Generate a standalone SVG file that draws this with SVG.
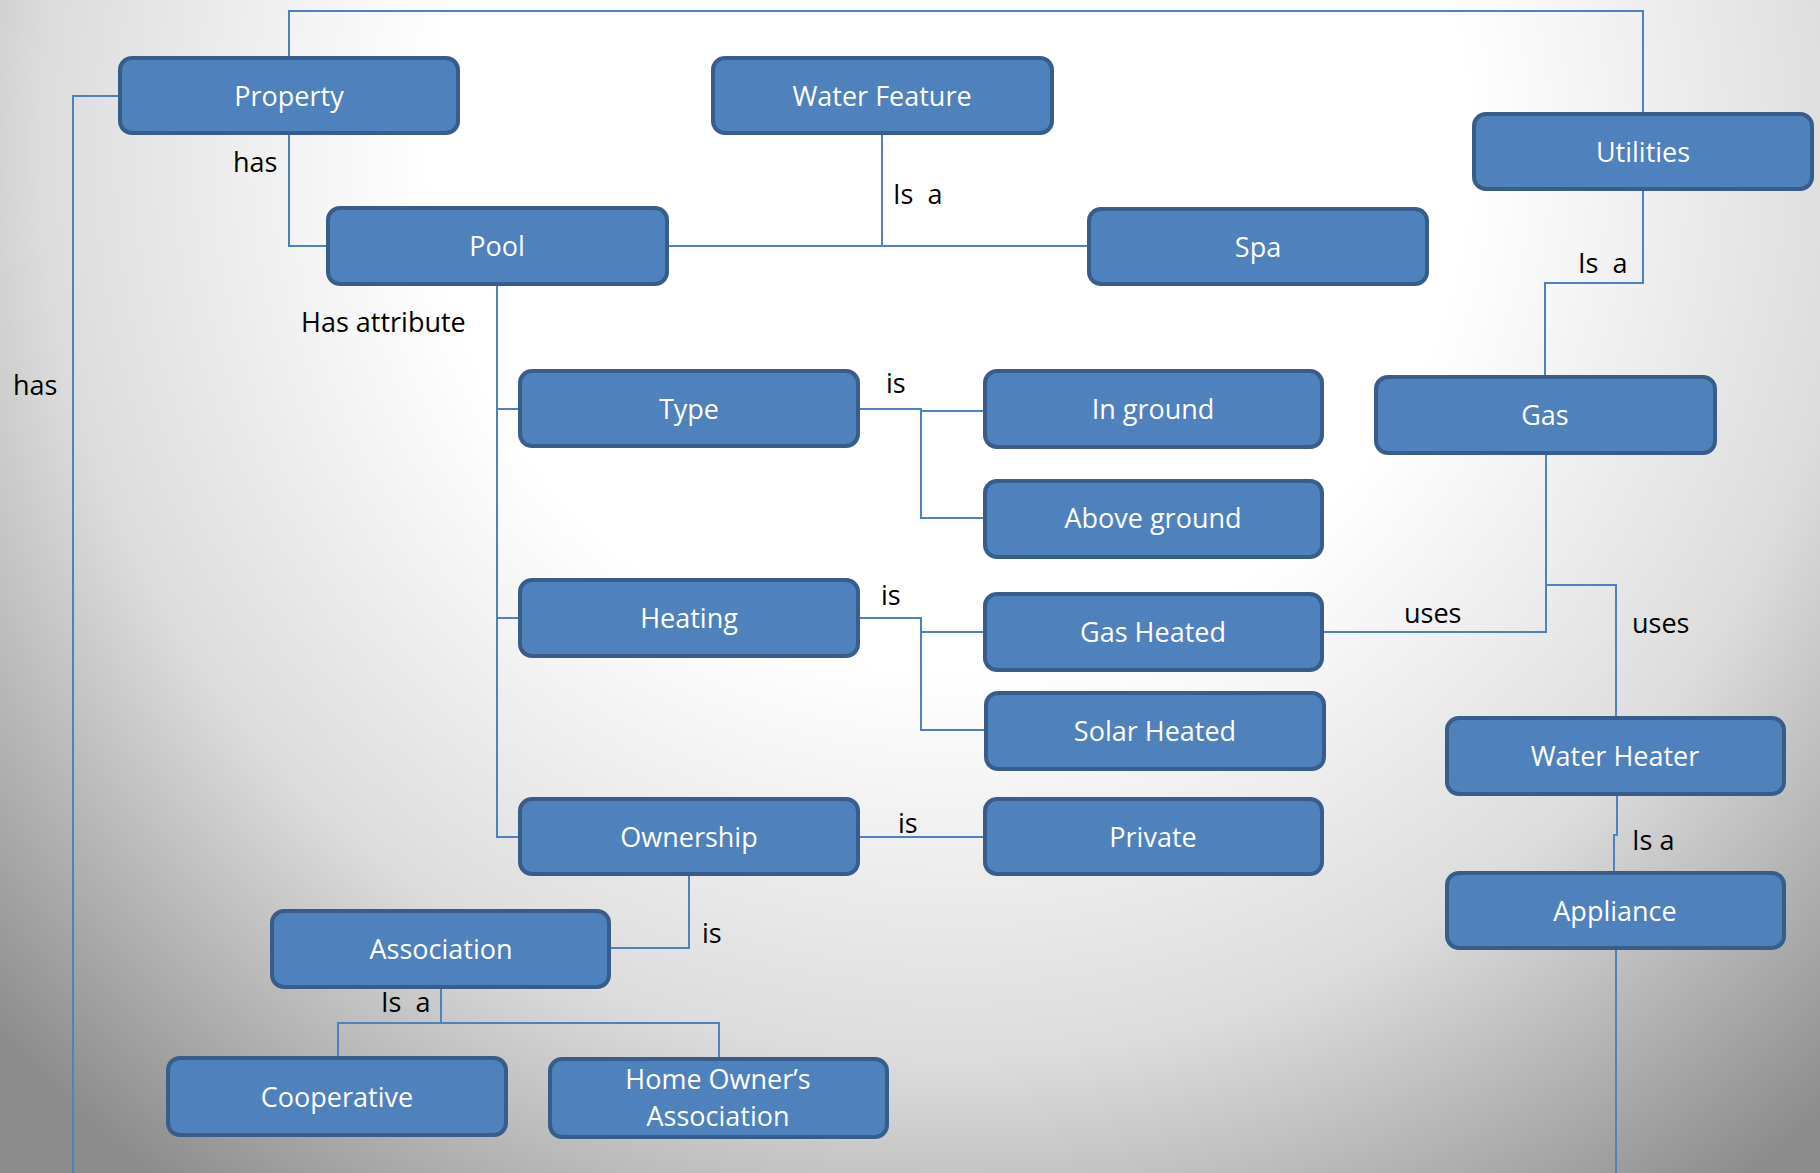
<svg xmlns="http://www.w3.org/2000/svg" width="1820" height="1173" viewBox="0 0 1820 1173">
<style>
.node rect{fill:#4F81BD;stroke:#385D8A;stroke-width:4}
.node text{fill:#fff;font-family:"Open Sans","Noto Sans",sans-serif;font-size:27px;text-anchor:middle}
.lbl{fill:#000;font-family:"Open Sans","Noto Sans",sans-serif;font-size:27px;white-space:pre}
#connectors path{fill:none;stroke:#4F81BD;stroke-width:2}
</style>
<defs>
<radialGradient id="bg" gradientUnits="userSpaceOnUse" cx="950" cy="150" r="1300">
<stop offset="0" stop-color="#ffffff"/>
<stop offset="0.4" stop-color="#ffffff"/>
<stop offset="0.7" stop-color="#dcdcdc"/>
<stop offset="1" stop-color="#8c8c8c"/>
</radialGradient>
</defs>
<rect width="1820" height="1173" fill="url(#bg)"/>
<g id="connectors">
<path d="M289,58 V11 H1643 V114"/>
<path d="M120,96 H73 V1173"/>
<path d="M289,132 V246 H328"/>
<path d="M882,132 V246 M667,246 H1089"/>
<path d="M1643,188 V283 H1545 V377"/>
<path d="M497,284 V837 H520 M497,409 H520 M497,618 H520"/>
<path d="M858,409 H921 V411 H985 M921,411 V518 H985"/>
<path d="M858,618 H921 V632 H985 M921,632 V730 H986"/>
<path d="M858,837 H985"/>
<path d="M689,874 V948 H609"/>
<path d="M441,987 V1023 M338,1058 V1023 H719 V1059"/>
<path d="M1322,632 H1546 V453 M1546,585 H1616 V718"/>
<path d="M1617,794 V835 H1614 V874"/>
<path d="M1616,948 V1173"/>
</g>
<g id="labels">
<text class="lbl" x="233" y="172">has</text>
<text class="lbl" x="13" y="395">has</text>
<text class="lbl" x="301" y="332">Has attribute</text>
<text class="lbl" x="893" y="204">Is  a</text>
<text class="lbl" x="1578" y="273">Is  a</text>
<text class="lbl" x="886" y="393">is</text>
<text class="lbl" x="881" y="605">is</text>
<text class="lbl" x="898" y="833">is</text>
<text class="lbl" x="702" y="943">is</text>
<text class="lbl" x="381" y="1012">Is  a</text>
<text class="lbl" x="1404" y="623">uses</text>
<text class="lbl" x="1632" y="633">uses</text>
<text class="lbl" x="1632" y="850">Is a</text>
</g>
<g id="property" class="node"><rect x="120" y="58" width="338" height="75" rx="12"/><text x="289" y="106">Property</text></g>
<g id="water-feature" class="node"><rect x="713" y="58" width="339" height="75" rx="12"/><text x="882" y="106">Water Feature</text></g>
<g id="utilities" class="node"><rect x="1474" y="114" width="338" height="75" rx="12"/><text x="1643" y="162">Utilities</text></g>
<g id="pool" class="node"><rect x="328" y="208" width="339" height="76" rx="12"/><text x="497" y="256">Pool</text></g>
<g id="spa" class="node"><rect x="1089" y="209" width="338" height="75" rx="12"/><text x="1258" y="257">Spa</text></g>
<g id="gas" class="node"><rect x="1376" y="377" width="339" height="76" rx="12"/><text x="1545" y="425">Gas</text></g>
<g id="type" class="node"><rect x="520" y="371" width="338" height="75" rx="12"/><text x="689" y="419">Type</text></g>
<g id="in-ground" class="node"><rect x="985" y="371" width="337" height="76" rx="12"/><text x="1153" y="419">In ground</text></g>
<g id="above-ground" class="node"><rect x="985" y="481" width="337" height="76" rx="12"/><text x="1153" y="528">Above ground</text></g>
<g id="heating" class="node"><rect x="520" y="580" width="338" height="76" rx="12"/><text x="689" y="628">Heating</text></g>
<g id="gas-heated" class="node"><rect x="985" y="594" width="337" height="76" rx="12"/><text x="1153" y="642">Gas Heated</text></g>
<g id="solar-heated" class="node"><rect x="986" y="693" width="338" height="76" rx="12"/><text x="1155" y="741">Solar Heated</text></g>
<g id="ownership" class="node"><rect x="520" y="799" width="338" height="75" rx="12"/><text x="689" y="847">Ownership</text></g>
<g id="private" class="node"><rect x="985" y="799" width="337" height="75" rx="12"/><text x="1153" y="847">Private</text></g>
<g id="water-heater" class="node"><rect x="1447" y="718" width="337" height="76" rx="12"/><text x="1615" y="766">Water Heater</text></g>
<g id="appliance" class="node"><rect x="1447" y="873" width="337" height="75" rx="12"/><text x="1615" y="921">Appliance</text></g>
<g id="association" class="node"><rect x="272" y="911" width="337" height="76" rx="12"/><text x="441" y="959">Association</text></g>
<g id="cooperative" class="node"><rect x="168" y="1058" width="338" height="77" rx="12"/><text x="337" y="1107">Cooperative</text></g>
<g id="hoa" class="node"><rect x="550" y="1059" width="337" height="78" rx="12"/><text x="718" y="1089">Home Owner’s</text><text x="718" y="1126">Association</text></g>
</svg>
